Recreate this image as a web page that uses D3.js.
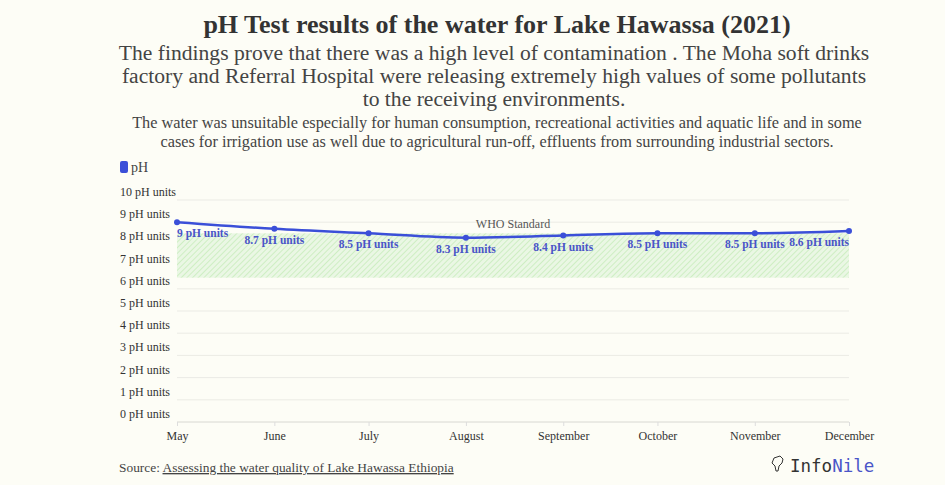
<!DOCTYPE html>
<html>
<head>
<meta charset="utf-8">
<script src="https://cdn.jsdelivr.net/npm/d3@7"></script>
<style>
  body { margin: 0; background: #fdfdf6; }
  svg { display: block; font-family: "Liberation Serif", "DejaVu Serif", serif; }
</style>
</head>
<body>
<script>
// data
const months = ["May", "June", "July", "August", "September", "October", "November", "December"];
const phValues = [9, 8.7, 8.5, 8.3, 8.4, 8.5, 8.5, 8.6];
const yTicks = [0, 1, 2, 3, 4, 5, 6, 7, 8, 9, 10];
const whoRange = [6.5, 8.5];

const width = 945, height = 485;
const blue = "#3b4fd8";

const svg = d3.select("body").append("svg")
  .attr("width", width)
  .attr("height", height);

svg.append("rect").attr("width", width).attr("height", height).attr("fill", "#fdfdf6");

// header
const header = svg.append("g").attr("text-anchor", "middle");
header.append("text")
  .attr("x", 497).attr("y", 33)
  .attr("font-size", 26).attr("font-weight", "bold").attr("fill", "#333")
  .text("pH Test results of the water for Lake Hawassa (2021)");
const subLines = [
  "The findings prove that there was a high level of contamination . The Moha soft drinks",
  "factory and Referral Hospital were releasing extremely high values of some pollutants",
  "to the receiving environments."
];
header.selectAll("text.sub").data(subLines).join("text")
  .attr("class", "sub")
  .attr("x", 494).attr("y", (d, i) => 60 + i * 23)
  .attr("font-size", 21.6).attr("fill", "#444")
  .text(d => d);
const descLines = [
  "The water was unsuitable especially for human consumption, recreational activities and aquatic life and in some",
  "cases for irrigation use as well due to agricultural run-off, effluents from surrounding industrial sectors."
];
header.selectAll("text.desc").data(descLines).join("text")
  .attr("class", "desc")
  .attr("x", 497).attr("y", (d, i) => 128 + i * 19)
  .attr("font-size", 16.3).attr("fill", "#444")
  .text(d => d);

// legend
svg.append("rect").attr("x", 120).attr("y", 161).attr("width", 8).attr("height", 12)
  .attr("rx", 2).attr("fill", blue);
svg.append("text").attr("x", 131).attr("y", 172).attr("font-size", 14).attr("fill", "#444").text("pH");

// scales
const x = d3.scaleTime()
  .domain([new Date(2021, 4, 1), new Date(2021, 11, 1)])
  .range([177, 849]);
const y = d3.scaleLinear().domain([0, 10]).range([422, 200]);
const dates = months.map((m, i) => new Date(2021, 4 + i, 1));

// hatched pattern for WHO band
const defs = svg.append("defs");
const pat = defs.append("pattern")
  .attr("id", "hatch").attr("patternUnits", "userSpaceOnUse")
  .attr("width", 4).attr("height", 4)
  .attr("patternTransform", "rotate(45)");
pat.append("rect").attr("width", 4).attr("height", 4).attr("fill", "#eaf7e4");
pat.append("line").attr("x1", 0).attr("y1", 0).attr("x2", 0).attr("y2", 4)
  .attr("stroke", "#c5ebb8").attr("stroke-width", 1.5);

// grid
svg.append("g").selectAll("line").data(yTicks).join("line")
  .attr("x1", 177).attr("x2", 849)
  .attr("y1", d => y(d)).attr("y2", d => y(d))
  .attr("stroke", d => d === 0 ? "#d8d8d2" : "#ebebe5").attr("stroke-width", 1);

svg.append("g").selectAll("text").data(yTicks).join("text")
  .attr("x", 120).attr("y", d => y(d) - 4)
  .attr("font-size", 12).attr("fill", "#333")
  .text(d => d + " pH units");

// WHO band
svg.append("rect")
  .attr("x", x.range()[0]).attr("width", x.range()[1] - x.range()[0])
  .attr("y", y(whoRange[1])).attr("height", y(whoRange[0]) - y(whoRange[1]))
  .attr("fill", "url(#hatch)");
svg.append("text")
  .attr("x", (x.range()[0] + x.range()[1]) / 2).attr("y", y(whoRange[1]) - 5)
  .attr("text-anchor", "middle").attr("font-size", 12).attr("fill", "#555")
  .text("WHO Standard");

// x axis
const xAxis = svg.append("g")
  .attr("transform", `translate(0,${y(0)})`)
  .call(d3.axisBottom(x).tickValues(dates).tickSize(4).tickFormat((d, i) => months[i]));
xAxis.select(".domain").remove();
xAxis.selectAll(".tick line").attr("stroke", "#ddd");
xAxis.selectAll(".tick text")
  .attr("font-family", "Liberation Serif, serif").attr("font-size", 12).attr("fill", "#333")
  .attr("dy", "0.9em");

// line
const line = d3.line().x((d, i) => x(dates[i])).y(d => y(d)).curve(d3.curveMonotoneX);
svg.append("path").datum(phValues)
  .attr("d", line).attr("fill", "none")
  .attr("stroke", blue).attr("stroke-width", 2.5);
svg.append("g").selectAll("circle").data(phValues).join("circle")
  .attr("cx", (d, i) => x(dates[i])).attr("cy", d => y(d)).attr("r", 3)
  .attr("fill", blue);

svg.append("g").selectAll("text").data(phValues).join("text")
  .attr("x", (d, i) => x(dates[i]))
  .attr("y", d => y(d) + 15)
  .attr("text-anchor", (d, i) => i === 0 ? "start" : i === phValues.length - 1 ? "end" : "middle")
  .attr("font-size", 11.5).attr("font-weight", "bold").attr("fill", "#4a55c8")
  .text(d => d + " pH units");

// footer
const src = svg.append("text").attr("x", 119).attr("y", 472).attr("font-size", 13.4).attr("fill", "#444");
src.append("tspan").text("Source: ");
src.append("tspan").attr("text-decoration", "underline").text("Assessing the water quality of Lake Hawassa Ethiopia");

const logo = svg.append("g").attr("transform", "translate(771,456)");
logo.append("path")
  .attr("d", "M3,2 L9,0 L12,3 L11,7 L8,10 L7,15 L5,15 L4,10 L1,7 Z")
  .attr("fill", "none").attr("stroke", "#333").attr("stroke-width", 1);
const logoText = logo.append("text").attr("x", 19).attr("y", 16)
  .attr("font-family", "DejaVu Sans Mono, monospace").attr("font-size", 17.5);
logoText.append("tspan").attr("fill", "#333").text("Info");
logoText.append("tspan").attr("fill", "#4a55c8").text("Nile");
</script>
</body>
</html>
